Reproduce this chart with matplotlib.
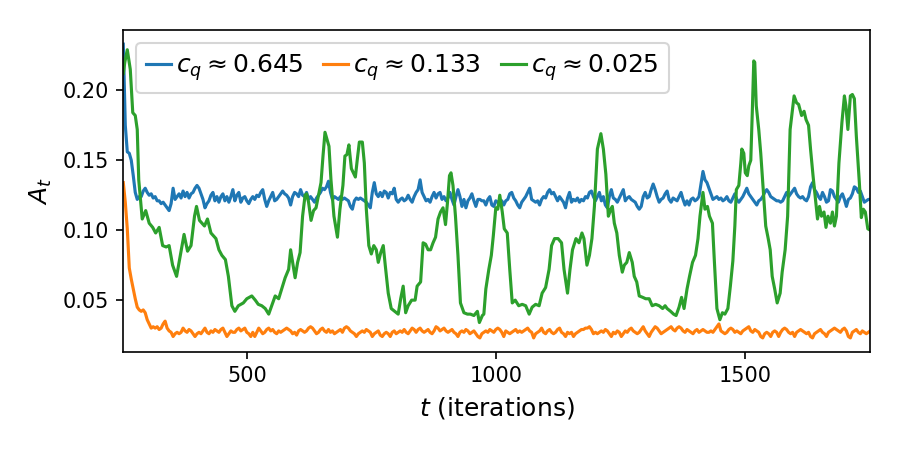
# Attention mass A_t over training for three values of c_q.
import matplotlib
matplotlib.use('Agg')
import matplotlib.pyplot as plt

labels = [r'$c_q \approx 0.645$', r'$c_q \approx 0.133$', r'$c_q \approx 0.025$']
colors = ['tab:blue', 'tab:orange', 'tab:green']

# blue and orange are read every 4 iterations, from t = 252 to 1752
t_grid = list(range(252, 1753, 4))

# c_q ~ 0.645
a_hi = [0.233, 0.175, 0.156, 0.155, 0.150, 0.139, 0.127, 0.122, 0.124, 0.124,
        0.128, 0.130, 0.127, 0.125, 0.126, 0.123, 0.124, 0.121, 0.121, 0.119,
        0.120, 0.118, 0.116, 0.114, 0.119, 0.130, 0.122, 0.124, 0.126, 0.123,
        0.128, 0.124, 0.127, 0.123, 0.126, 0.127, 0.130, 0.132, 0.130, 0.126,
        0.122, 0.116, 0.119, 0.121, 0.125, 0.127, 0.121, 0.124, 0.120, 0.124,
        0.126, 0.121, 0.124, 0.120, 0.124, 0.129, 0.121, 0.125, 0.127, 0.120,
        0.123, 0.124, 0.121, 0.119, 0.122, 0.124, 0.122, 0.125, 0.124, 0.127,
        0.129, 0.122, 0.117, 0.121, 0.124, 0.127, 0.121, 0.122, 0.124, 0.126,
        0.128, 0.126, 0.125, 0.123, 0.118, 0.124, 0.127, 0.126, 0.124, 0.129,
        0.125, 0.124, 0.127, 0.122, 0.124, 0.122, 0.120, 0.123, 0.125, 0.127,
        0.130, 0.129, 0.131, 0.135, 0.127, 0.122, 0.124, 0.123, 0.122, 0.124,
        0.122, 0.123, 0.122, 0.121, 0.117, 0.115, 0.121, 0.123, 0.122, 0.123,
        0.122, 0.121, 0.120, 0.118, 0.116, 0.127, 0.134, 0.126, 0.124, 0.127,
        0.124, 0.128, 0.127, 0.123, 0.127, 0.126, 0.130, 0.122, 0.120, 0.122,
        0.123, 0.121, 0.122, 0.125, 0.122, 0.120, 0.124, 0.127, 0.129, 0.136,
        0.127, 0.124, 0.121, 0.122, 0.120, 0.124, 0.127, 0.123, 0.126, 0.127,
        0.122, 0.124, 0.121, 0.123, 0.127, 0.122, 0.118, 0.124, 0.129, 0.124,
        0.117, 0.122, 0.116, 0.121, 0.123, 0.126, 0.121, 0.117, 0.122, 0.122,
        0.121, 0.121, 0.118, 0.122, 0.124, 0.118, 0.117, 0.121, 0.120, 0.120,
        0.121, 0.118, 0.121, 0.122, 0.126, 0.127, 0.123, 0.121, 0.118, 0.116,
        0.120, 0.122, 0.124, 0.127, 0.130, 0.122, 0.121, 0.120, 0.121, 0.118,
        0.122, 0.124, 0.123, 0.127, 0.129, 0.126, 0.127, 0.124, 0.121, 0.124,
        0.122, 0.120, 0.116, 0.123, 0.127, 0.120, 0.122, 0.121, 0.123, 0.120,
        0.122, 0.121, 0.124, 0.123, 0.127, 0.128, 0.124, 0.121, 0.124, 0.127,
        0.121, 0.124, 0.118, 0.116, 0.124, 0.129, 0.123, 0.122, 0.120, 0.123,
        0.126, 0.129, 0.121, 0.123, 0.124, 0.122, 0.121, 0.120, 0.117, 0.115,
        0.117, 0.124, 0.127, 0.123, 0.124, 0.129, 0.133, 0.129, 0.124, 0.120,
        0.122, 0.123, 0.126, 0.128, 0.122, 0.120, 0.123, 0.122, 0.121, 0.124,
        0.127, 0.122, 0.118, 0.121, 0.118, 0.122, 0.123, 0.121, 0.122, 0.124,
        0.133, 0.142, 0.136, 0.134, 0.130, 0.126, 0.122, 0.123, 0.124, 0.122,
        0.123, 0.121, 0.122, 0.124, 0.121, 0.120, 0.123, 0.126, 0.122, 0.120,
        0.122, 0.124, 0.127, 0.130, 0.126, 0.124, 0.122, 0.120, 0.118, 0.121,
        0.122, 0.124, 0.127, 0.129, 0.127, 0.124, 0.123, 0.122, 0.121, 0.121,
        0.120, 0.121, 0.124, 0.127, 0.124, 0.126, 0.128, 0.130, 0.126, 0.124,
        0.123, 0.124, 0.122, 0.121, 0.124, 0.131, 0.134, 0.129, 0.127, 0.124,
        0.122, 0.127, 0.124, 0.120, 0.121, 0.129, 0.128, 0.124, 0.122, 0.120,
        0.124, 0.126, 0.122, 0.117, 0.122, 0.123, 0.126, 0.131, 0.130, 0.127,
        0.128, 0.124, 0.120, 0.121, 0.122, 0.122]

# c_q ~ 0.133
a_mid = [0.134, 0.120, 0.101, 0.073, 0.065, 0.058, 0.051, 0.045, 0.043, 0.042,
         0.043, 0.041, 0.036, 0.033, 0.030, 0.031, 0.030, 0.031, 0.029, 0.030,
         0.033, 0.035, 0.030, 0.028, 0.027, 0.024, 0.026, 0.027, 0.026, 0.027,
         0.030, 0.028, 0.027, 0.029, 0.028, 0.026, 0.024, 0.026, 0.027, 0.026,
         0.028, 0.030, 0.027, 0.026, 0.028, 0.027, 0.029, 0.028, 0.027, 0.029,
         0.030, 0.027, 0.024, 0.026, 0.028, 0.027, 0.027, 0.029, 0.030, 0.028,
         0.029, 0.030, 0.027, 0.026, 0.024, 0.027, 0.024, 0.027, 0.030, 0.028,
         0.026, 0.027, 0.029, 0.030, 0.028, 0.029, 0.027, 0.026, 0.028, 0.027,
         0.028, 0.029, 0.030, 0.029, 0.028, 0.026, 0.027, 0.025, 0.028, 0.029,
         0.028, 0.027, 0.028, 0.030, 0.031, 0.030, 0.028, 0.026, 0.027, 0.029,
         0.030, 0.028, 0.027, 0.029, 0.027, 0.028, 0.026, 0.027, 0.028, 0.029,
         0.027, 0.030, 0.031, 0.030, 0.028, 0.027, 0.026, 0.024, 0.026, 0.027,
         0.028, 0.027, 0.029, 0.028, 0.027, 0.024, 0.026, 0.027, 0.028, 0.025,
         0.024, 0.026, 0.027, 0.026, 0.024, 0.027, 0.028, 0.026, 0.027, 0.028,
         0.027, 0.029, 0.027, 0.026, 0.028, 0.030, 0.029, 0.027, 0.029, 0.030,
         0.028, 0.027, 0.028, 0.029, 0.027, 0.026, 0.028, 0.031, 0.030, 0.028,
         0.029, 0.030, 0.028, 0.027, 0.028, 0.029, 0.027, 0.026, 0.024, 0.027,
         0.028, 0.027, 0.029, 0.028, 0.026, 0.027, 0.028, 0.026, 0.024, 0.023,
         0.026, 0.027, 0.028, 0.027, 0.029, 0.028, 0.027, 0.029, 0.030, 0.029,
         0.027, 0.024, 0.028, 0.027, 0.026, 0.027, 0.028, 0.029, 0.027, 0.028,
         0.027, 0.028, 0.029, 0.030, 0.028, 0.027, 0.023, 0.026, 0.027, 0.028,
         0.030, 0.027, 0.026, 0.028, 0.029, 0.027, 0.026, 0.027, 0.029, 0.030,
         0.027, 0.026, 0.024, 0.027, 0.026, 0.027, 0.024, 0.026, 0.027, 0.028,
         0.029, 0.029, 0.030, 0.030, 0.031, 0.029, 0.026, 0.027, 0.026, 0.027,
         0.028, 0.027, 0.029, 0.028, 0.026, 0.024, 0.027, 0.026, 0.028, 0.027,
         0.024, 0.026, 0.028, 0.027, 0.029, 0.030, 0.028, 0.027, 0.026, 0.027,
         0.029, 0.031, 0.028, 0.026, 0.024, 0.027, 0.029, 0.031, 0.030, 0.028,
         0.026, 0.027, 0.028, 0.029, 0.030, 0.031, 0.029, 0.028, 0.030, 0.031,
         0.030, 0.028, 0.027, 0.029, 0.028, 0.027, 0.026, 0.028, 0.029, 0.027,
         0.028, 0.029, 0.028, 0.027, 0.027, 0.028, 0.027, 0.029, 0.031, 0.033,
         0.028, 0.027, 0.026, 0.027, 0.029, 0.030, 0.029, 0.027, 0.028, 0.027,
         0.026, 0.028, 0.029, 0.030, 0.031, 0.028, 0.027, 0.029, 0.028, 0.027,
         0.024, 0.023, 0.026, 0.027, 0.026, 0.024, 0.027, 0.028, 0.027, 0.024,
         0.027, 0.029, 0.030, 0.029, 0.027, 0.026, 0.027, 0.024, 0.027, 0.028,
         0.029, 0.028, 0.027, 0.026, 0.027, 0.024, 0.023, 0.026, 0.027, 0.028,
         0.029, 0.027, 0.026, 0.024, 0.027, 0.028, 0.029, 0.030, 0.029, 0.028,
         0.027, 0.029, 0.030, 0.028, 0.024, 0.023, 0.027, 0.028, 0.029, 0.027,
         0.026, 0.028, 0.027, 0.026, 0.027, 0.028]

# c_q ~ 0.025, read at its turning points
t_lo = [252, 255, 260, 266, 271, 276, 280, 283, 290, 297, 304, 311, 317, 324, 331, 338, 344, 351, 359, 364,
        374, 381, 388, 395, 399, 405, 415, 421, 428, 438, 444, 450, 457, 463, 470, 476, 483, 493, 500, 510,
        517, 523, 530, 537, 544, 550, 557, 564, 570, 577, 584, 588, 592, 597, 602, 607, 612, 617, 620, 624,
        629, 634, 639, 645, 649, 653, 657, 661, 665, 669, 675, 682, 687, 693, 697, 701, 705, 710, 718, 722,
        726, 732, 736, 740, 745, 750, 755, 760, 764, 769, 774, 778, 784, 790, 797, 804, 809, 814, 819, 824,
        831, 838, 842, 849, 854, 859, 864, 869, 874, 879, 884, 889, 894, 899, 903, 907, 910, 914, 919, 924,
        929, 936, 943, 949, 956, 963, 967, 973, 976, 980, 986, 991, 995, 1000, 1004, 1008, 1013, 1017, 1023,
        1028, 1033, 1039, 1046, 1053, 1060, 1067, 1073, 1080, 1087, 1093, 1100, 1107, 1112, 1118, 1125, 1132,
        1137, 1144, 1149, 1154, 1161, 1167, 1173, 1177, 1183, 1188, 1193, 1198, 1204, 1211, 1216, 1221, 1226,
        1231, 1234, 1238, 1243, 1248, 1254, 1258, 1263, 1268, 1274, 1278, 1283, 1288, 1295, 1301, 1308, 1314,
        1321, 1328, 1335, 1340, 1344, 1351, 1357, 1362, 1368, 1373, 1378, 1384, 1389, 1395, 1401, 1406, 1410,
        1416, 1420, 1425, 1429, 1435, 1439, 1444, 1450, 1455, 1460, 1466, 1471, 1476, 1480, 1483, 1488, 1492,
        1494, 1498, 1501, 1505, 1508, 1512, 1515, 1518, 1520, 1523, 1528, 1532, 1537, 1542, 1547, 1551, 1555,
        1560, 1565, 1571, 1575, 1581, 1586, 1591, 1595, 1599, 1604, 1608, 1614, 1619, 1623, 1628, 1632, 1637,
        1642, 1646, 1650, 1654, 1659, 1663, 1667, 1672, 1676, 1680, 1684, 1689, 1695, 1700, 1703, 1707, 1712,
        1716, 1720, 1724, 1730, 1734, 1738, 1742, 1747, 1752]
a_lo = [0.212, 0.220, 0.229, 0.215, 0.184, 0.182, 0.172, 0.136, 0.108, 0.114, 0.105, 0.102, 0.098, 0.102,
        0.089, 0.088, 0.089, 0.075, 0.067, 0.077, 0.097, 0.085, 0.089, 0.110, 0.117, 0.107, 0.103, 0.108,
        0.098, 0.094, 0.086, 0.082, 0.079, 0.067, 0.046, 0.042, 0.046, 0.048, 0.051, 0.053, 0.050, 0.047,
        0.046, 0.044, 0.040, 0.046, 0.053, 0.051, 0.058, 0.066, 0.072, 0.086, 0.077, 0.066, 0.077, 0.084,
        0.110, 0.125, 0.126, 0.120, 0.107, 0.114, 0.116, 0.127, 0.134, 0.153, 0.170, 0.165, 0.160, 0.136,
        0.110, 0.095, 0.115, 0.132, 0.153, 0.154, 0.161, 0.144, 0.138, 0.151, 0.163, 0.163, 0.148, 0.115,
        0.089, 0.083, 0.089, 0.086, 0.077, 0.084, 0.089, 0.075, 0.055, 0.044, 0.042, 0.040, 0.051, 0.060,
        0.041, 0.046, 0.050, 0.050, 0.060, 0.063, 0.091, 0.090, 0.086, 0.086, 0.091, 0.095, 0.108, 0.113,
        0.116, 0.104, 0.120, 0.139, 0.141, 0.132, 0.110, 0.082, 0.048, 0.041, 0.040, 0.040, 0.039, 0.042,
        0.034, 0.039, 0.040, 0.058, 0.072, 0.082, 0.096, 0.116, 0.115, 0.125, 0.113, 0.101, 0.098, 0.072,
        0.048, 0.050, 0.046, 0.047, 0.046, 0.040, 0.045, 0.047, 0.046, 0.055, 0.059, 0.072, 0.089, 0.094,
        0.094, 0.091, 0.072, 0.055, 0.072, 0.086, 0.094, 0.091, 0.098, 0.094, 0.075, 0.082, 0.094, 0.117,
        0.158, 0.169, 0.158, 0.140, 0.110, 0.115, 0.117, 0.105, 0.098, 0.082, 0.070, 0.075, 0.077, 0.084,
        0.077, 0.067, 0.063, 0.053, 0.052, 0.051, 0.051, 0.046, 0.047, 0.046, 0.044, 0.046, 0.044, 0.042,
        0.040, 0.039, 0.045, 0.052, 0.044, 0.058, 0.067, 0.077, 0.082, 0.094, 0.110, 0.127, 0.115, 0.117,
        0.110, 0.105, 0.077, 0.044, 0.036, 0.041, 0.040, 0.044, 0.060, 0.078, 0.103, 0.129, 0.132, 0.148,
        0.158, 0.155, 0.141, 0.139, 0.146, 0.150, 0.184, 0.221, 0.220, 0.189, 0.172, 0.155, 0.129, 0.103,
        0.094, 0.086, 0.067, 0.058, 0.048, 0.055, 0.070, 0.086, 0.110, 0.172, 0.184, 0.196, 0.191, 0.190,
        0.182, 0.185, 0.179, 0.175, 0.158, 0.139, 0.122, 0.108, 0.117, 0.110, 0.113, 0.102, 0.110, 0.105,
        0.113, 0.103, 0.110, 0.148, 0.177, 0.196, 0.189, 0.172, 0.196, 0.197, 0.194, 0.167, 0.134, 0.109,
        0.115, 0.113, 0.101, 0.100]


def main():
    fig, ax = plt.subplots(figsize=(6, 3), dpi=150)
    fig.subplots_adjust(left=0.137, right=0.967, top=0.933, bottom=0.218)

    series = [(t_grid, a_hi), (t_grid, a_mid), (t_lo, a_lo)]
    for (t, a), label, color in zip(series, labels, colors):
        ax.plot(t[:len(a)], a, color=color, lw=1.5, label=label)

    ax.set_xlim(252, 1752)
    ax.set_ylim(0.013, 0.243)
    ax.set_xticks([500, 1000, 1500])
    ax.set_yticks([0.05, 0.10, 0.15, 0.20])
    ax.set_xlabel(r'$t$ (iterations)', fontsize=12)
    ax.set_ylabel(r'$A_t$', fontsize=12)
    ax.legend(loc='upper left', ncol=3, fontsize=12, handlelength=1.0,
              handletextpad=0.2, columnspacing=0.8)

    fig.savefig('out.png', dpi=150)
    plt.close(fig)


if __name__ == '__main__':
    main()
